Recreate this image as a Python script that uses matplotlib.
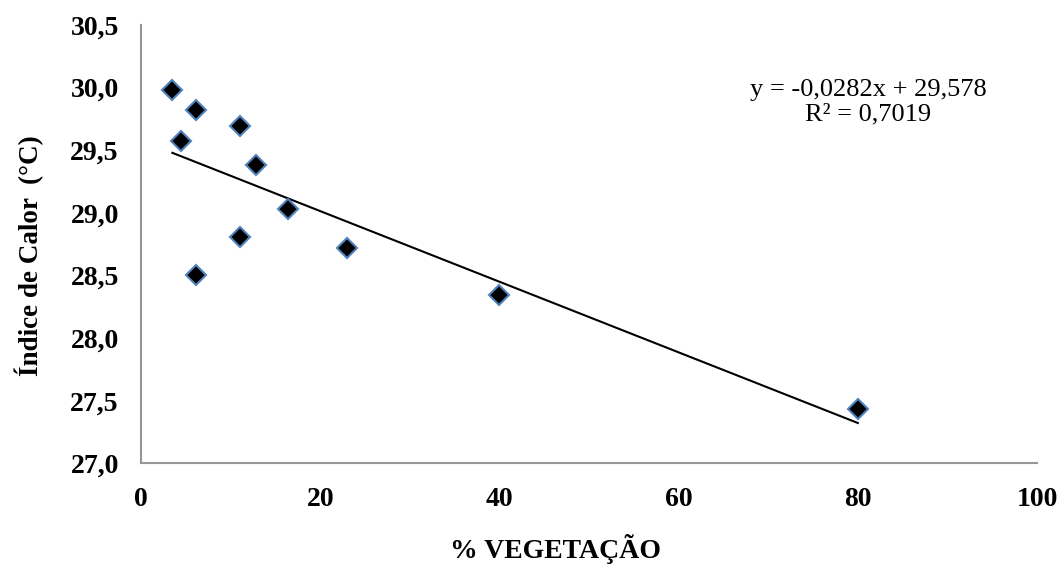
import matplotlib
matplotlib.use("Agg")
import matplotlib.pyplot as plt
import numpy as np

vegetacao = [3.5, 4.5, 6.1, 6.1, 11.0, 11.0, 12.8, 16.4, 23.0, 40.0, 80.0]
indice_calor = [29.98, 29.57, 29.82, 28.50, 29.69, 28.81, 29.38, 29.03, 28.72, 28.34, 27.43]
trend_slope = -0.0282
trend_intercept = 29.578
x_ticks = [0, 20, 40, 60, 80, 100]
y_ticks = [27.0, 27.5, 28.0, 28.5, 29.0, 29.5, 30.0, 30.5]
equation_line = "y = -0,0282x + 29,578"
r2_line = "R² = 0,7019"

plt.rcParams['font.family'] = ['Liberation Serif', 'DejaVu Serif']

fig = plt.figure(figsize=(10.62, 5.69), dpi=100)
ax = fig.add_axes([141/1062, 1 - 463.3/569, (1037-141)/1062, (463.3-25)/569])

xs = np.array([min(vegetacao), max(vegetacao)])
ax.plot(xs, trend_intercept + trend_slope * xs, color='black', lw=1.5, zorder=2)
ax.plot(vegetacao, indice_calor, linestyle='none', marker='D', markersize=10,
        markerfacecolor='black', markeredgecolor='#4F81BD', markeredgewidth=1.5, zorder=3)

ax.set_xlim(0, 100)
ax.set_ylim(27.0, 30.5)
ax.set_xticks(x_ticks)
ax.set_yticks(y_ticks)
ax.set_xticklabels([str(v) for v in x_ticks], fontsize=20, fontweight='bold')
ax.set_yticklabels([f"{v:.1f}".replace('.', ',') for v in y_ticks], fontsize=20, fontweight='bold')
ax.tick_params(axis='x', length=0, pad=17)
ax.tick_params(axis='y', length=0, pad=16)

for s in ['top', 'right']:
    ax.spines[s].set_visible(False)
for s in ['left', 'bottom']:
    ax.spines[s].set_color('#969696')
    ax.spines[s].set_linewidth(1.5)

fig.text(555/1062, 1 - 549/569, "% VEGETAÇÃO", ha='center', va='center',
         fontsize=20, fontweight='bold')
fig.text(29/1062, 1 - 256/569, "Índice de Calor  (°C)", ha='center', va='center',
         rotation=90, fontsize=19.5, fontweight='bold')

fig.text(868/1062, 1 - 90/569, equation_line, ha='center', va='center', fontsize=19)
fig.text(868/1062, 1 - 114/569, r2_line, ha='center', va='center', fontsize=19)

fig.savefig("out.png", dpi=100)
